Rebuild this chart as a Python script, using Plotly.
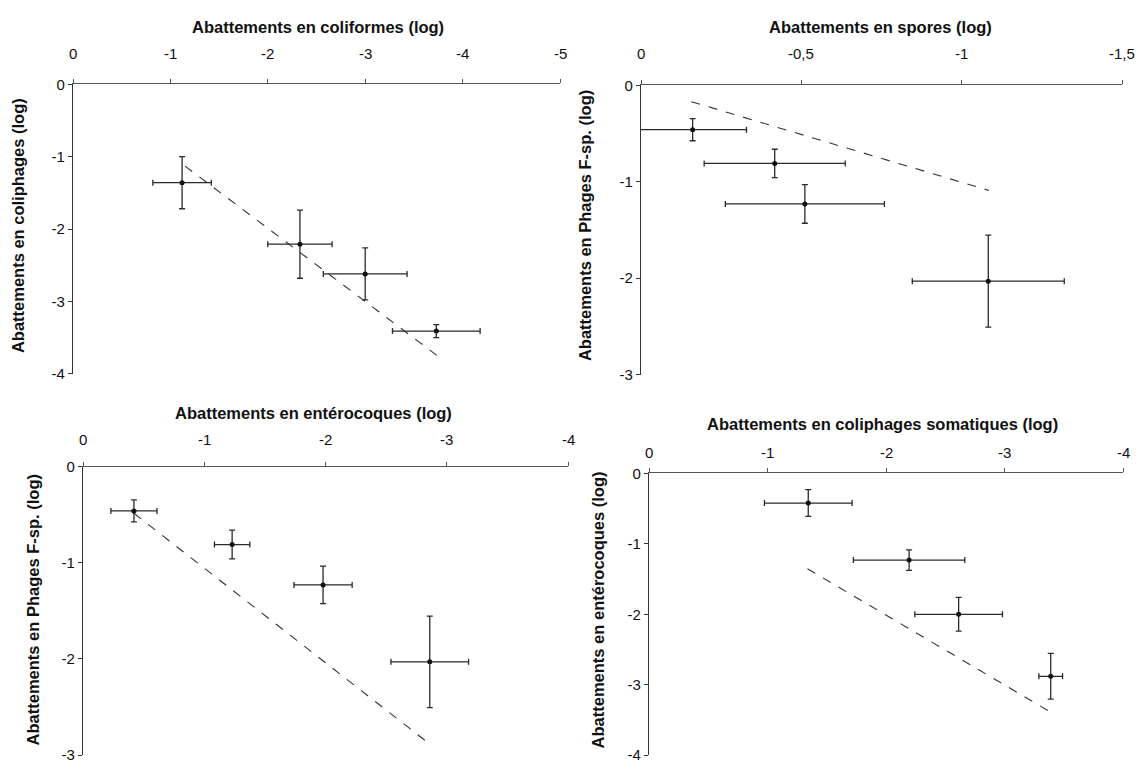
import plotly.graph_objects as go

W, H = 1141, 769

# ---- Panel A: coliformes vs coliphages
a_x = [-1.12, -2.33, -3.00, -3.73]
a_xerr = [0.30, 0.33, 0.43, 0.45]
a_y = [-1.36, -2.21, -2.62, -3.41]
a_yerr = [0.36, 0.47, 0.36, 0.09]
a_line_x = [-1.15, -3.75]
a_line_y = [-1.13, -3.76]

# ---- Panel B: spores vs Phages F-sp.
b_x = [-0.161, -0.417, -0.511, -1.083]
b_xerr = [0.168, 0.22, 0.248, 0.237]
b_y = [-0.46, -0.81, -1.23, -2.03]
b_yerr = [0.115, 0.147, 0.20, 0.476]
b_line_x = [-0.157, -1.085]
b_line_y = [-0.17, -1.09]

# ---- Panel C: entérocoques vs Phages F-sp.
c_x = [-0.42, -1.23, -1.98, -2.86]
c_xerr = [0.19, 0.146, 0.24, 0.32]
c_y = [-0.46, -0.81, -1.23, -2.03]
c_yerr = [0.115, 0.15, 0.195, 0.475]
c_line_x = [-0.42, -2.86]
c_line_y = [-0.485, -2.885]

# ---- Panel D: coliphages somatiques vs entérocoques
d_x = [-1.344, -2.195, -2.613, -3.39]
d_xerr = [0.37, 0.47, 0.37, 0.10]
d_y = [-0.42, -1.23, -2.00, -2.88]
d_yerr = [0.19, 0.145, 0.24, 0.325]
d_line_x = [-1.337, -3.39]
d_line_y = [-1.353, -3.39]

panels = [
    dict(x=a_x, xe=a_xerr, y=a_y, ye=a_yerr, lx=a_line_x, ly=a_line_y,
         box=(73, 560, 77, 373), xr=[0, -5], yr=[-4, 0], xdt=1, ydt=1,
         xtitle="Abattements en coliformes (log)", xt_pos=(318, 18), xtick_y=45,
         ytitle="Abattements en coliphages (log)", yt_pos=(18, 222)),
    dict(x=b_x, xe=b_xerr, y=b_y, ye=b_yerr, lx=b_line_x, ly=b_line_y,
         box=(641, 1122, 78, 374), xr=[0, -1.5], yr=[-3, 0], xdt=0.5, ydt=1,
         xtitle="Abattements en spores (log)", xt_pos=(880, 18), xtick_y=45,
         ytitle="Abattements en Phages F-sp. (log)", yt_pos=(585, 222)),
    dict(x=c_x, xe=c_xerr, y=c_y, ye=c_yerr, lx=c_line_x, ly=c_line_y,
         box=(83, 568, 468, 763), xr=[0, -4], yr=[-3, 0], xdt=1, ydt=1,
         xtitle="Abattements en entérocoques (log)", xt_pos=(313, 413), xtick_y=440,
         ytitle="Abattements en Phages F-sp. (log)", yt_pos=(33, 615)),
    dict(x=d_x, xe=d_xerr, y=d_y, ye=d_yerr, lx=d_line_x, ly=d_line_y,
         box=(649, 1123, 475, 763), xr=[0, -4], yr=[-4, 0], xdt=1, ydt=1,
         xtitle="Abattements en coliphages somatiques (log)", xt_pos=(882, 424), xtick_y=454,
         ytitle="Abattements en entérocoques (log)", yt_pos=(598, 615)),
]

FONT = "Liberation Sans, Arial, sans-serif"
TICK_SIZE = 15
TITLE_SIZE = 16.5
fig = go.Figure()
annotations = []
layout = {}

for i, p in enumerate(panels, start=1):
    xa = "x" if i == 1 else f"x{i}"
    ya = "y" if i == 1 else f"y{i}"
    x0, x1, y0, y1 = p["box"]
    fig.add_trace(go.Scatter(
        x=p["lx"], y=p["ly"], xaxis=xa, yaxis=ya, mode="lines",
        line=dict(color="#333333", width=1.1, dash="dash"),
        showlegend=False, hoverinfo="skip"))
    fig.add_trace(go.Scatter(
        x=p["x"], y=p["y"], xaxis=xa, yaxis=ya, mode="markers",
        marker=dict(color="#111111", size=5),
        error_x=dict(type="data", array=p["xe"], visible=True,
                     color="#2a2a2a", thickness=1.3, width=3),
        error_y=dict(type="data", array=p["ye"], visible=True,
                     color="#2a2a2a", thickness=1.3, width=3),
        cliponaxis=False, showlegend=False))
    xkey = "xaxis" if i == 1 else f"xaxis{i}"
    ykey = "yaxis" if i == 1 else f"yaxis{i}"
    xtickvals = []
    v = 0.0
    while v >= p["xr"][1] - 1e-9:
        xtickvals.append(round(v, 3))
        v -= p["xdt"]
    xticktext = [("0" if t == 0 else ("%g" % t).replace(".", ",")) for t in xtickvals]
    ytickvals = []
    v = 0.0
    while v >= p["yr"][0] - 1e-9:
        ytickvals.append(round(v, 3))
        v -= p["ydt"]
    yticktext = ["%g" % t for t in ytickvals]
    layout[xkey] = dict(
        domain=[x0 / W, x1 / W], range=p["xr"], anchor=ya, side="top",
        showline=True, linecolor="#555555", linewidth=1.2,
        ticks="outside", ticklen=4, tickcolor="#555555",
        tickvals=xtickvals, ticktext=xticktext, showticklabels=False,
        showgrid=False, zeroline=False, fixedrange=True)
    layout[ykey] = dict(
        domain=[1 - y1 / H, 1 - y0 / H], range=p["yr"], anchor=xa,
        showline=True, linecolor="#333333", linewidth=1.2,
        ticks="outside", ticklen=4, tickcolor="#333333",
        tickvals=ytickvals, ticktext=yticktext,
        tickfont=dict(family=FONT, size=TICK_SIZE, color="#111111"),
        showgrid=False, zeroline=False, fixedrange=True)
    # x tick labels placed above the axis line
    for tv, tt in zip(xtickvals, xticktext):
        frac = (tv - p["xr"][0]) / (p["xr"][1] - p["xr"][0])
        annotations.append(dict(
            x=(x0 + frac * (x1 - x0)) / W, y=1 - p["xtick_y"] / H,
            xref="paper", yref="paper", text=tt, showarrow=False,
            xanchor="center", yanchor="middle",
            font=dict(family=FONT, size=TICK_SIZE, color="#111111")))
    annotations.append(dict(
        x=p["xt_pos"][0] / W, y=1 - p["xt_pos"][1] / H, xref="paper", yref="paper",
        text="<b>%s</b>" % p["xtitle"], showarrow=False,
        xanchor="center", yanchor="middle",
        font=dict(family=FONT, size=TITLE_SIZE, color="#111111")))
    annotations.append(dict(
        x=p["yt_pos"][0] / W, y=1 - p["yt_pos"][1] / H, xref="paper", yref="paper",
        text="<b>%s</b>" % p["ytitle"], showarrow=False, textangle=-90,
        xanchor="center", yanchor="middle",
        font=dict(family=FONT, size=TITLE_SIZE, color="#111111")))

fig.update_layout(
    width=W, height=H, margin=dict(l=0, r=0, t=0, b=0),
    paper_bgcolor="white", plot_bgcolor="white",
    annotations=annotations, **layout)

fig.write_html("out.html", config={"displayModeBar": False},
               post_script="document.body.style.margin='0';"
                           "document.documentElement.style.overflow='hidden';"
                           "document.body.style.overflow='hidden';")
